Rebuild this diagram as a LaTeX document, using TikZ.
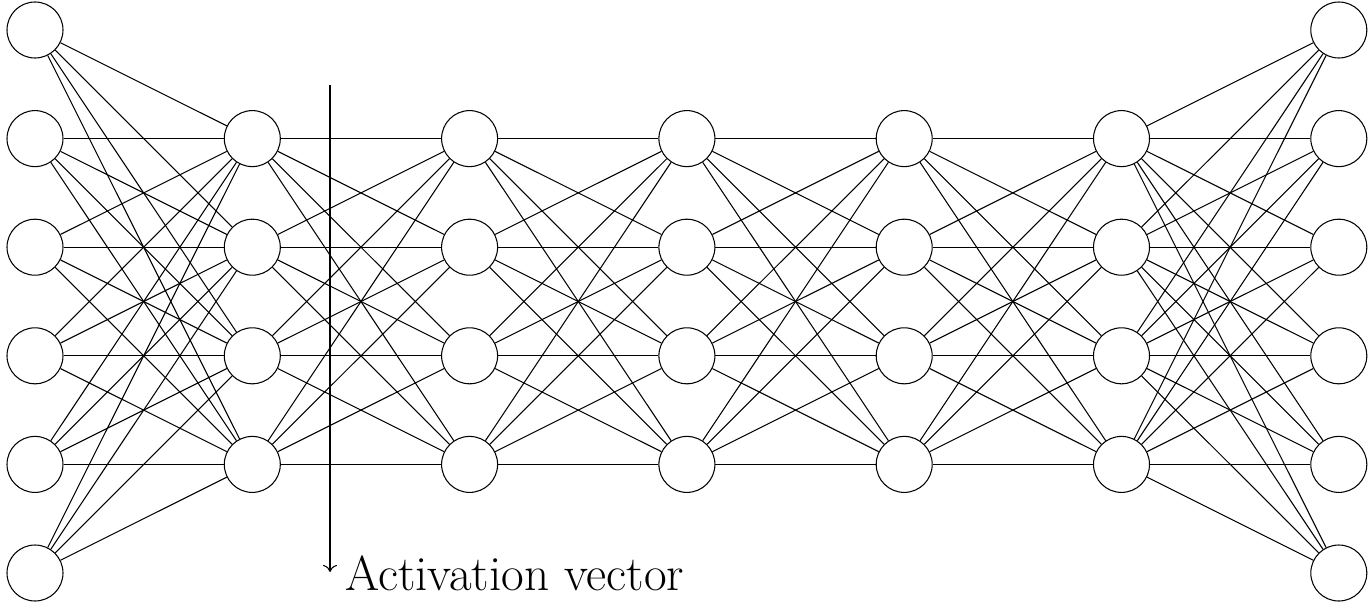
\documentclass[tikz,border=0pt]{standalone}
\usepackage{tikz}
\usetikzlibrary{arrows.meta}

\tikzset{
    neuron/.style={draw, circle, fill=white, minimum size=1.12cm, inner sep=0pt, line width=0.6pt},
    weight/.style={line width=0.6pt}
}

\begin{document}
\begin{tikzpicture}[x=1cm, y=1cm]
    \useasboundingbox (-0.70,0.60) rectangle (26.72,-11.52);

    % outer layers have 6 neurons, hidden layers 4
    \foreach \r in {0,...,5} {
        \node[neuron] (n0-\r) at (0,-2.172*\r) {};
        \node[neuron] (n6-\r) at (6*4.346,-2.172*\r) {};
    }
    \foreach \c in {1,...,5}
        \foreach \r in {1,...,4}
            \node[neuron] (n\c-\r) at (\c*4.346,-2.172*\r) {};

    % fully connected weights
    \foreach \a in {0,...,5}
        \foreach \b in {1,...,4} {
            \draw[weight] (n0-\a) -- (n1-\b);
            \draw[weight] (n5-\b) -- (n6-\a);
        }
    \foreach \c [evaluate=\c as \d using int(\c+1)] in {1,...,4}
        \foreach \a in {1,...,4}
            \foreach \b in {1,...,4}
                \draw[weight] (n\c-\a) -- (n\d-\b);

    % activation vector marker
    \coordinate (acttop) at (5.90,-1.10);
    \coordinate (actend) at (5.90,-10.84);
    \draw[line width=0.6pt, -{To[length=4pt,width=8pt]}] (acttop) -- (actend);
    \node[anchor=base west, inner sep=0pt] (actlabel) at (6.20,-11.20)
        {\fontsize{28}{33}\selectfont Activation vector};
\end{tikzpicture}
\end{document}
